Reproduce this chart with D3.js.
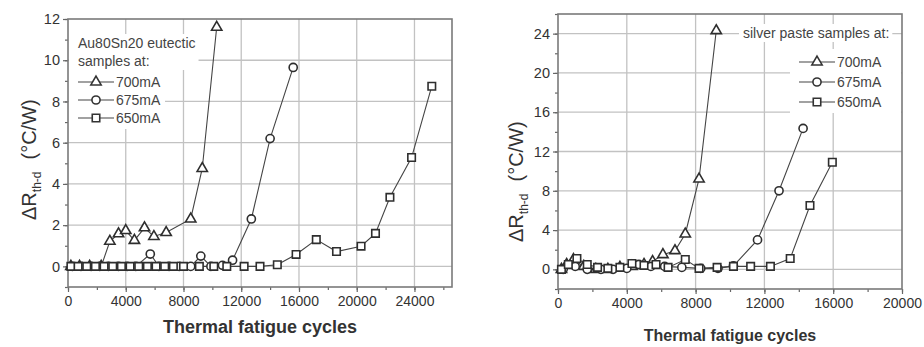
<!DOCTYPE html>
<html>
<head>
<meta charset="utf-8">
<script src="https://d3js.org/d3.v7.min.js"></script>
<style>
  body { margin: 0; background: #fff; }
  svg { display: block; font-family: "Liberation Sans", Arial, sans-serif; }
  .tick text { fill: #333; }
  .tick line { stroke: #666; stroke-width: 1.2; }
</style>
</head>
<body>
<svg id="chart" width="924" height="347"></svg>
<script>
// ---- data: [thermal fatigue cycles, delta R th-d (C/W)] ----
const au700 = [[200, 0], [800, 0], [1500, 0], [2300, 0], [2900, 1.22], [3500, 1.58], [4000, 1.74],
  [4600, 1.26], [5300, 1.87], [5950, 1.45], [6800, 1.64], [8500, 2.3], [9300, 4.75], [10300, 11.6]];
const au675 = [[300, 0], [900, 0], [1600, 0], [2200, 0], [2800, 0], [3500, 0], [4100, 0], [4700, 0],
  [5700, 0.6], [6300, 0], [7000, 0], [7700, 0], [8500, 0], [9200, 0.5], [9900, 0], [10700, 0.05],
  [11400, 0.3], [12700, 2.3], [14000, 6.2], [15600, 9.65]];
const au650 = [[200, 0], [700, 0], [1300, 0], [1900, 0], [2500, 0], [3100, 0], [3700, 0], [4300, 0],
  [4900, 0], [5500, 0], [6100, 0], [6700, 0], [7300, 0], [8000, 0], [9100, 0], [10100, 0], [11000, 0],
  [12200, 0], [13300, 0], [14500, 0.08], [15800, 0.58], [17200, 1.3], [18600, 0.72], [20300, 0.98],
  [21300, 1.6], [22300, 3.35], [23800, 5.28], [25200, 8.74]];

const ag700 = [[200, 0], [500, 0.5], [900, 1.0], [1500, 0.3], [2200, 0], [2900, 0], [3600, 0.2],
  [4300, 0.3], [5000, 0.5], [5500, 0.8], [6100, 1.5], [6800, 1.9], [7400, 3.6], [8200, 9.2], [9200, 24.3]];
const ag675 = [[300, 0], [1000, 0.3], [1700, 0], [2500, 0], [3200, 0], [4000, 0.1], [4700, 0.5],
  [5400, 0.3], [6200, 0.3], [7200, 0.2], [8300, 0.1], [9300, 0.1], [10200, 0.35], [11600, 3.0],
  [12850, 8.0], [14250, 14.35]];
const ag650 = [[200, 0], [600, 0.5], [1100, 1.1], [1700, 0.5], [2300, 0.2], [2900, 0.1], [3600, 0.2],
  [4300, 0.6], [5000, 0.4], [5700, 0.5], [6400, 0.2], [7400, 1.0], [8200, 0.1], [9250, 0.2],
  [10200, 0.3], [11200, 0.3], [12350, 0.3], [13500, 1.1], [14650, 6.5], [15950, 10.9]];

const seriesNames = ['700mA', '675mA', '650mA'];
const seriesShapes = ['triangle', 'circle', 'square'];

const auXTicks = [0, 4000, 8000, 12000, 16000, 20000, 24000];
const auYTicks = [0, 2, 4, 6, 8, 10, 12];
const agXTicks = [0, 4000, 8000, 12000, 16000, 20000];
const agYTicks = [0, 4, 8, 12, 16, 20, 24];

const auLegendTitle = ['Au80Sn20 eutectic', 'samples at:'];
const agLegendTitle = ['silver paste samples at:'];

const xTitle = 'Thermal fatigue cycles';

const svg = d3.select('#chart');

const symbolFor = {
  triangle: d3.symbol().type(d3.symbolTriangle).size(46),
  circle: d3.symbol().type(d3.symbolCircle).size(52),
  square: d3.symbol().type(d3.symbolSquare).size(56),
};

const drawPanel = (cfg) => {
  const x = d3.scaleLinear().domain(cfg.xDomain).range(cfg.xRange);
  const y = d3.scaleLinear().domain(cfg.yDomain).range(cfg.yRange);
  const [x0, x1] = cfg.xRange;
  const [y1, y0] = cfg.yRange; // y1 bottom, y0 top

  const g = svg.append('g');

  // grid
  g.append('g').selectAll('line')
    .data(cfg.xTicks.filter(v => x(v) > x0 + 1 && x(v) < x1 - 1))
    .join('line')
    .attr('x1', d => x(d)).attr('x2', d => x(d))
    .attr('y1', y0).attr('y2', y1)
    .attr('stroke', '#c2c2c2').attr('stroke-width', 1.3);
  g.append('g').selectAll('line')
    .data(cfg.yTicks.filter(v => y(v) > y0 + 1 && y(v) < y1 - 1))
    .join('line')
    .attr('x1', x0).attr('x2', x1)
    .attr('y1', d => y(d)).attr('y2', d => y(d))
    .attr('stroke', '#c2c2c2').attr('stroke-width', 1.3);

  // axes (major + minor)
  const minorX = d3.range(0, cfg.xDomain[1] + 1, cfg.xMinor);
  const minorY = d3.range(cfg.yDomain[0], cfg.yDomain[1] + 0.01, cfg.yMinor);

  const xAx = g.append('g').attr('transform', `translate(0,${y1})`)
    .call(d3.axisBottom(x).tickValues(cfg.xTicks).tickSize(5).tickPadding(4).tickFormat(d3.format('d')));
  g.append('g').attr('transform', `translate(0,${y1})`)
    .call(d3.axisBottom(x).tickValues(minorX).tickSize(3).tickFormat(''));
  const yAx = g.append('g').attr('transform', `translate(${x0},0)`)
    .call(d3.axisLeft(y).tickValues(cfg.yTicks).tickSize(5).tickPadding(3));
  g.append('g').attr('transform', `translate(${x0},0)`)
    .call(d3.axisLeft(y).tickValues(minorY).tickSize(3).tickFormat(''));
  g.selectAll('.domain').remove();
  xAx.selectAll('text').style('font-size', '14px');
  yAx.selectAll('text').style('font-size', '14.5px');

  // frame
  g.append('rect')
    .attr('x', x0).attr('y', y0)
    .attr('width', x1 - x0).attr('height', y1 - y0)
    .attr('fill', 'none').attr('stroke', '#7a7a7a').attr('stroke-width', 1.6);

  // legend
  const leg = g.append('g');
  const titleG = leg.append('g');
  const entryG = leg.append('g');
  cfg.legendTitle.forEach((t, i) => {
    titleG.append('text')
      .attr('x', cfg.legend.titleX).attr('y', cfg.legend.titleY + i * 18)
      .attr('fill', '#444').style('font-size', '14px')
      .text(t);
  });
  seriesNames.forEach((name, i) => {
    const yy = cfg.legend.entryY + i * cfg.legend.entryStep;
    const row = entryG.append('g');
    row.append('line')
      .attr('x1', cfg.legend.lineX).attr('x2', cfg.legend.lineX + 36)
      .attr('y1', yy - 5).attr('y2', yy - 5)
      .attr('stroke', '#444').attr('stroke-width', 1.2);
    row.append('path')
      .attr('d', symbolFor[seriesShapes[i]]())
      .attr('transform', `translate(${cfg.legend.lineX + 18},${yy - 5})`)
      .attr('fill', '#fff').attr('stroke', '#333').attr('stroke-width', 1.6);
    row.append('text')
      .attr('x', cfg.legend.lineX + 38).attr('y', yy)
      .attr('fill', '#444').style('font-size', '14px')
      .text(name);
  });
  const tb = titleG.node().getBBox();
  const eb = entryG.node().getBBox();
  leg.insert('rect', ':first-child')
    .attr('x', cfg.legend.titleBg ? tb.x - 4 : x0 + 1).attr('y', tb.y - 1)
    .attr('width', (cfg.legend.titleBg ? 4 : tb.x - x0 - 1) + tb.width + 3)
    .attr('height', tb.height + 2).attr('fill', '#fff');
  const ex = cfg.legend.entryBgX !== undefined ? cfg.legend.entryBgX : x0 + 1;
  const exEnd = cfg.legend.entryBgToEdge ? x1 - 1 : eb.x + eb.width + 4;
  leg.insert('rect', ':first-child')
    .attr('x', ex).attr('y', eb.y - 5)
    .attr('width', exEnd - ex).attr('height', eb.height + 8)
    .attr('fill', '#fff');

  // series
  cfg.series.forEach((data, i) => {
    const line = d3.line().x(d => x(d[0])).y(d => y(d[1]));
    g.append('path')
      .datum(data)
      .attr('d', line)
      .attr('fill', 'none').attr('stroke', '#444').attr('stroke-width', 1.1);
  });
  cfg.series.forEach((data, i) => {
    g.append('g').selectAll('path')
      .data(data)
      .join('path')
      .attr('d', symbolFor[seriesShapes[i]]())
      .attr('transform', d => `translate(${x(d[0])},${y(d[1])})`)
      .attr('fill', '#fff').attr('stroke', '#2e2e2e').attr('stroke-width', 1.6);
  });

  // axis titles
  g.append('text')
    .attr('x', (x0 + x1) / 2).attr('y', cfg.xTitleY)
    .attr('text-anchor', 'middle')
    .attr('fill', '#333').style('font-size', `${cfg.xTitleSize}px`).style('font-weight', 'bold')
    .text(xTitle);

  const yt = g.append('text')
    .attr('transform', `translate(${cfg.yTitleX},${cfg.yTitleY}) rotate(-90)`)
    .attr('fill', '#333').style('font-size', '20px');
  yt.append('tspan').text('ΔR');
  yt.append('tspan').attr('dy', 5).style('font-size', '12px').text('th-d');
  yt.append('tspan').attr('dy', -5).attr('dx', 12).text('(°C/W)');
};

drawPanel({
  xDomain: [0, 26600], xRange: [68, 452],
  yDomain: [-1, 12], yRange: [287, 19],
  xTicks: auXTicks, yTicks: auYTicks, xMinor: 2000, yMinor: 1,
  series: [au700, au675, au650],
  legendTitle: auLegendTitle,
  legend: { titleX: 78, titleY: 48, entryY: 87, entryStep: 18, lineX: 78, titleBg: false },
  xTitleY: 333, xTitleSize: 18,
  yTitleX: 36, yTitleY: 220,
});

drawPanel({
  xDomain: [0, 20000], xRange: [558, 902],
  yDomain: [-2, 26], yRange: [289, 14],
  xTicks: agXTicks, yTicks: agYTicks, xMinor: 2000, yMinor: 2,
  series: [ag700, ag675, ag650],
  legendTitle: agLegendTitle,
  legend: { titleX: 743, titleY: 38, entryY: 67, entryStep: 20, lineX: 799, titleBg: true,
    entryBgX: 790, entryBgToEdge: true },
  xTitleY: 341, xTitleSize: 16,
  yTitleX: 523, yTitleY: 242,
});
</script>
</body>
</html>
